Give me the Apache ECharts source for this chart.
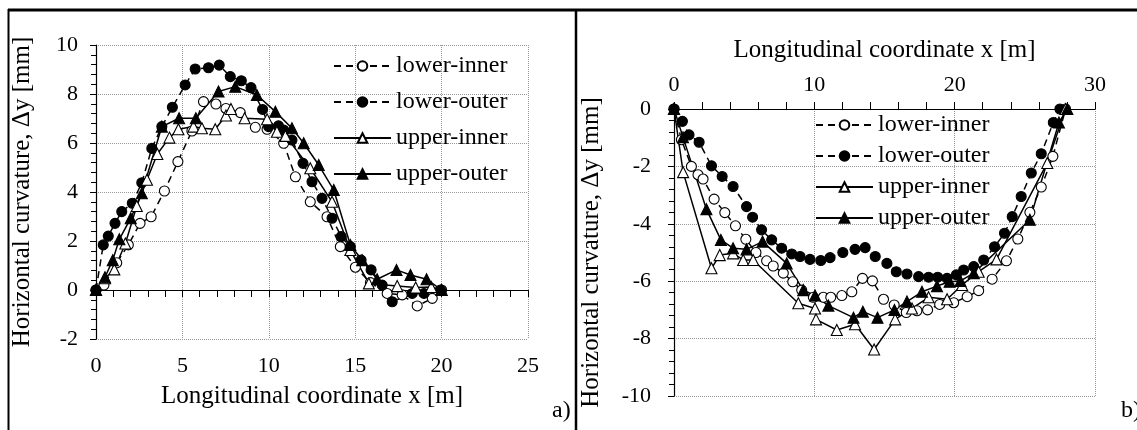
<!DOCTYPE html>
<html><head><meta charset="utf-8">
<script src="https://cdn.jsdelivr.net/npm/echarts@6/dist/echarts.min.js"></script>
<style>html,body{margin:0;padding:0;background:#fff}#c{width:1137px;height:430px}</style>
</head><body><div id="c"></div>
<script>
const seriesNames = ['lower-inner', 'lower-outer', 'upper-inner', 'upper-outer'];
const xName = 'Longitudinal coordinate x [m]';
const yName = 'Horizontal curvature, \u0394y [mm]';
// chart a) [x m, dy mm]
const aLowerInner = [[0,0],[0.46,0.2],[1.2,1.11],[1.87,1.84],[2.55,2.72],[3.19,2.99],[3.96,4.04],[4.74,5.24],[5.55,6.49],[6.22,7.69],[6.94,7.59],[7.52,7.41],[8.35,7.24],[9.22,6.64],[9.9,6.56],[10.86,5.99],[11.54,4.62],[12.4,3.6],[13.37,2.99],[14.14,1.77],[15.01,0.93],[15.88,0.3],[16.85,-0.14],[17.72,-0.2],[18.59,-0.65],[19.46,-0.34],[20,0]];
const aLowerOuter = [[0,0],[0.42,1.84],[0.71,2.2],[1.1,2.72],[1.49,3.2],[2.1,3.54],[2.65,4.38],[3.23,5.78],[3.81,6.67],[4.42,7.46],[5.16,8.37],[5.74,9.02],[6.51,9.07],[7.13,9.18],[7.77,8.71],[8.41,8.54],[8.97,8.26],[9.64,7.37],[9.99,6.67],[10.56,6.7],[10.86,6.53],[11.34,6.12],[11.98,5.17],[12.5,4.42],[13.08,3.74],[13.66,2.93],[14.19,2.18],[14.72,1.77],[15.34,1.22],[15.92,0.82],[16.56,0.2],[17.14,-0.48],[18.3,-0.14],[18.98,-0.14],[19.94,0]];
const aUpperInner = [[0,0],[0.52,0.48],[1.06,0.84],[1.7,1.9],[2.36,3.43],[2.95,4.5],[3.55,5.55],[4.25,6.22],[4.77,6.56],[5.64,6.67],[6.13,6.6],[6.9,6.56],[7.52,7.12],[7.81,7.39],[8.6,7.01],[9.9,6.97],[10.47,6.46],[10.96,6.29],[12.4,4.97],[13.66,3.6],[14.72,1.63],[15.79,0.27],[17.43,0.16],[18.5,0.1],[19.4,0.12],[20,0]];
const aUpperOuter = [[0,0],[0.52,0.52],[0.97,1.22],[1.35,2.07],[2.01,2.93],[2.65,3.95],[3.81,6.67],[4.81,7.01],[5.78,7.01],[7.09,8.1],[8.06,8.3],[9.31,7.96],[10.38,7.28],[11.34,6.6],[12.02,5.99],[12.89,5.1],[13.76,4.08],[14.72,1.84],[15.4,1.22],[16.27,0.44],[17.39,0.82],[18.2,0.61],[19.13,0.44],[20,0]];
// chart b)
const bLowerInner = [[0,0],[0.53,-1.07],[1.24,-2.0],[1.71,-2.29],[2.07,-2.44],[2.86,-3.14],[3.62,-3.61],[4.38,-4.07],[5.12,-4.54],[5.84,-5.0],[6.6,-5.29],[7.07,-5.47],[7.79,-5.72],[8.46,-6.02],[9.1,-6.31],[9.93,-6.56],[10.64,-6.56],[11.17,-6.56],[11.96,-6.5],[12.67,-6.37],[13.43,-5.9],[14.14,-5.99],[14.93,-6.63],[15.69,-6.83],[16.55,-7.09],[17.31,-7.03],[18.07,-7.0],[18.93,-6.81],[19.93,-6.75],[20.89,-6.54],[21.71,-6.33],[22.67,-5.93],[23.69,-5.29],[24.5,-4.53],[25.36,-3.6],[26.17,-2.72],[27.0,-1.65],[27.9,0]];
const bLowerOuter = [[0,0],[0.6,-0.43],[1.07,-0.9],[1.79,-1.16],[2.67,-1.98],[3.43,-2.35],[4.21,-2.7],[5.17,-3.4],[5.6,-3.77],[6.24,-4.21],[6.96,-4.56],[7.67,-4.85],[8.39,-5.05],[8.98,-5.14],[9.69,-5.24],[10.46,-5.28],[11.12,-5.18],[12.03,-5.0],[12.9,-4.89],[13.62,-4.83],[14.34,-5.14],[15.17,-5.38],[15.84,-5.67],[16.6,-5.75],[17.43,-5.84],[18.14,-5.86],[18.79,-5.86],[19.46,-5.9],[20.12,-5.78],[20.64,-5.61],[21.36,-5.49],[22.07,-5.26],[22.84,-4.8],[23.55,-4.33],[24.1,-3.75],[24.74,-3.05],[25.46,-2.23],[26.17,-1.56],[27.03,-0.47],[27.5,0]];
const bUpperInner = [[0,0],[0.65,-2.2],[2.67,-5.55],[3.26,-5.09],[4.21,-5.03],[4.93,-5.26],[5.64,-5.26],[8.86,-6.77],[10.05,-6.95],[10.12,-7.33],[11.6,-7.7],[12.9,-7.5],[14.26,-8.38],[15.76,-7.33],[16.96,-6.95],[18.14,-6.56],[19.46,-6.63],[20.53,-6.13],[21.71,-5.67],[22.98,-5.24],[26.6,-1.88],[27.9,0]];
const bUpperOuter = [[0,0],[0.64,-0.98],[2.31,-3.49],[3.34,-4.56],[4.21,-4.85],[5.17,-4.89],[6.31,-4.62],[8.03,-5.38],[9.21,-6.31],[10.05,-6.5],[11.0,-6.85],[12.79,-7.27],[13.46,-7.06],[14.5,-7.27],[15.71,-7.0],[16.6,-6.71],[17.67,-6.37],[18.74,-6.17],[19.64,-6.02],[20.41,-5.99],[21.36,-5.72],[25.36,-3.86],[27.43,-0.47],[28.03,0]];

const FONT = 'Liberation Serif';
const styles = [
  {dash: [7, 5], symbol: 'circle', fill: '#fff'},
  {dash: [7, 5], symbol: 'circle', fill: '#000'},
  {dash: 'solid', symbol: 'triangle', fill: '#fff'},
  {dash: 'solid', symbol: 'triangle', fill: '#000'}
];
function mk(name, data, xi, yi) {
  const s = styles[seriesNames.indexOf(name)];
  return {
    name, type: 'line', data, xAxisIndex: xi, yAxisIndex: yi,
    symbol: s.symbol, symbolSize: s.symbol === 'circle' ? 10 : 11, showAllSymbol: true,
    lineStyle: {color: '#000', width: 1.5, type: s.dash},
    itemStyle: {color: s.fill, borderColor: '#000', borderWidth: 1.1},
    z: 3
  };
}
const grid = {type: 'dotted', color: '#999', width: 1};
const axisTxt = {fontFamily: FONT, fontSize: 22, color: '#000'};
const nameTxt = {fontFamily: FONT, fontSize: 25, color: '#000'};

const chart = echarts.init(document.getElementById('c'), null, {renderer: 'canvas'});
chart.setOption({
  animation: false,
  backgroundColor: '#fff',
  grid: [
    {left: 96, top: 45, width: 432, height: 294, containLabel: false},
    {left: 674, top: 109, width: 421, height: 287, containLabel: false}
  ],
  xAxis: [
    {gridIndex: 0, type: 'value', min: 0, max: 25, interval: 5, position: 'bottom',
     axisLine: {show: true, onZero: true, lineStyle: {color: '#000', width: 1.2}},
     axisTick: {show: true, length: 7, lineStyle: {color: '#000'}},
     minorTick: {show: true, splitNumber: 5, length: 7, lineStyle: {color: '#000'}},
     axisLabel: {show: false}, splitLine: {show: true, lineStyle: grid}},
    {gridIndex: 0, type: 'value', min: 0, max: 25, interval: 5, position: 'bottom',
     axisLine: {show: false, onZero: false}, axisTick: {show: false},
     axisLabel: {show: true, margin: 16, ...axisTxt}, splitLine: {show: false},
     name: xName, nameLocation: 'middle', nameGap: 45, nameTextStyle: nameTxt},
    {gridIndex: 1, type: 'value', min: 0, max: 30, interval: 10, position: 'top',
     axisLine: {show: true, onZero: false, lineStyle: {color: '#000', width: 1.2}},
     axisTick: {show: true, length: 7, lineStyle: {color: '#000'}},
     minorTick: {show: true, splitNumber: 5, length: 7, lineStyle: {color: '#000'}},
     axisLabel: {show: true, margin: 13, ...axisTxt}, splitLine: {show: true, lineStyle: grid},
     name: xName, nameLocation: 'middle', nameGap: 46, nameTextStyle: nameTxt}
  ],
  yAxis: [
    {gridIndex: 0, type: 'value', min: -2, max: 10, interval: 2,
     axisLine: {show: true, onZero: false, lineStyle: {color: '#000', width: 1.2}},
     axisTick: {show: true, length: 6, lineStyle: {color: '#000'}},
     minorTick: {show: true, splitNumber: 5, length: 5, lineStyle: {color: '#000'}},
     axisLabel: {show: true, margin: 18, ...axisTxt}, splitLine: {show: true, lineStyle: grid},
     name: yName, nameLocation: 'middle', nameRotate: 90, nameGap: 61, nameTextStyle: nameTxt},
    {gridIndex: 1, type: 'value', min: -10, max: 0, interval: 2,
     axisLine: {show: true, onZero: false, lineStyle: {color: '#000', width: 1.2}},
     axisTick: {show: true, length: 6, lineStyle: {color: '#000'}},
     minorTick: {show: true, splitNumber: 5, length: 5, lineStyle: {color: '#000'}},
     axisLabel: {show: true, margin: 23, ...axisTxt}, splitLine: {show: true, lineStyle: grid},
     name: yName, nameLocation: 'middle', nameRotate: 90, nameGap: 70, nameTextStyle: nameTxt}
  ],
  legend: [
    {data: seriesNames, orient: 'vertical', left: 333, top: 54, padding: 0, itemGap: 12,
     itemWidth: 57, itemHeight: 12, selectedMode: false,
     textStyle: {fontFamily: FONT, fontSize: 24, color: '#000', lineHeight: 24}},
    {data: seriesNames, orient: 'vertical', left: 815, top: 113, padding: 0, itemGap: 7,
     itemWidth: 57, itemHeight: 12, selectedMode: false,
     textStyle: {fontFamily: FONT, fontSize: 24, color: '#000', lineHeight: 24}}
  ],
  series: [
    mk('lower-inner', aLowerInner, 0, 0),
    mk('lower-outer', aLowerOuter, 0, 0),
    mk('upper-inner', aUpperInner, 0, 0),
    mk('upper-outer', aUpperOuter, 0, 0),
    mk('lower-inner', bLowerInner, 2, 1),
    mk('lower-outer', bLowerOuter, 2, 1),
    mk('upper-inner', bUpperInner, 2, 1),
    mk('upper-outer', bUpperOuter, 2, 1)
  ],
  graphic: [
    {type: 'line', shape: {x1: 8, y1: 10, x2: 1137, y2: 10}, style: {stroke: '#000', lineWidth: 3}},
    {type: 'line', shape: {x1: 8.5, y1: 9, x2: 8.5, y2: 430}, style: {stroke: '#000', lineWidth: 2}},
    {type: 'line', shape: {x1: 576, y1: 9, x2: 576, y2: 430}, style: {stroke: '#000', lineWidth: 2.5}},
    {type: 'text', left: 552, top: 399, style: {text: 'a)', font: '24px "Liberation Serif"', fill: '#000'}},
    {type: 'text', left: 1121, top: 399, style: {text: 'b)', font: '24px "Liberation Serif"', fill: '#000'}}
  ]
});
</script></body></html>
